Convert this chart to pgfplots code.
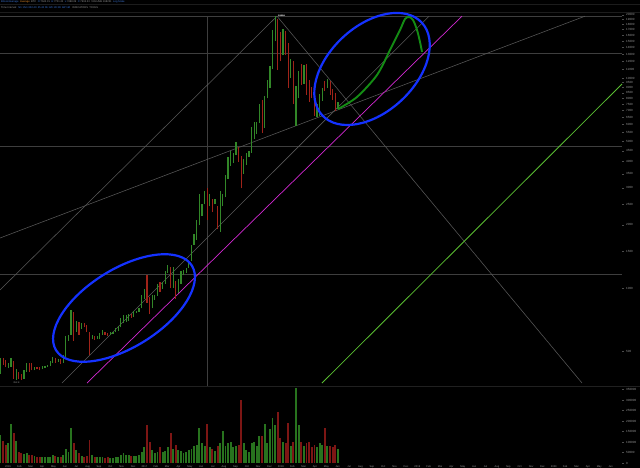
\documentclass[border=0pt]{standalone}
\usepackage{fontspec}
\setmainfont{Liberation Sans}
\usepackage{pgfplots}
\pgfplotsset{compat=1.18}
\definecolor{hline}{RGB}{62,62,62}
\definecolor{dline}{RGB}{88,88,88}
\definecolor{mag}{RGB}{210,40,210}
\definecolor{lime}{RGB}{90,190,50}
\definecolor{ellblue}{RGB}{20,50,255}
\definecolor{projgreen}{RGB}{20,140,20}
\definecolor{cgreen}{RGB}{50,135,40}
\definecolor{cred}{RGB}{160,35,25}
\definecolor{vgreen}{RGB}{40,115,30}
\definecolor{vred}{RGB}{125,22,20}
\definecolor{lblgray}{RGB}{150,150,150}
\definecolor{hdrblue}{RGB}{60,120,220}
\definecolor{hdrorange}{RGB}{230,140,40}
\newcommand\cu[3]{\addplot[cgreen, line width=1.15pt, forget plot] coordinates {(#1,#2)(#1,#3)};}
\newcommand\cd[3]{\addplot[cred, line width=1.15pt, forget plot] coordinates {(#1,#2)(#1,#3)};}
\begin{document}
\begin{tikzpicture}[x=1pt,y=1pt]
\fill[black] (0,0) rectangle (640,468);
% header
\draw[gray!22!black, line width=0.6pt] (0,464) -- (640,464);
\draw[gray!22!black, line width=0.6pt] (0,456) -- (640,456);
\node[anchor=west, inner sep=0pt, font=\fontsize{2.6}{3}\selectfont] at (1,466.3)
  {\textcolor{hdrblue}{BitcoinAverage}\ \ \textcolor{hdrorange}{Average}\ \ \textcolor{lblgray}{BTC}\ \ \textcolor{hdrblue}{O:}\textcolor{lblgray}{7642.15}\ \ \textcolor{hdrblue}{H:}\textcolor{lblgray}{7701.22}\ \ \textcolor{hdrblue}{L:}\textcolor{lblgray}{7488.09}\ \ \textcolor{hdrblue}{C:}\textcolor{lblgray}{7604.33}\ \ \textcolor{lblgray}{VOLUME 168221}\ \ \textcolor{hdrblue}{Log Scale}};
\node[anchor=west, inner sep=0pt, font=\fontsize{2.6}{3}\selectfont] at (1,460.2)
  {\textcolor{lblgray}{Time Interval:}\ \ \textcolor{hdrblue}{5m\ 15m\ 30m\ 1h\ 2h\ 4h\ 6h\ 12h\ 1D\ 3D\ 1W\ 1M}\ \ \ \textcolor{lblgray}{INDICATORS}\ \ \textcolor{lblgray}{TOOLS}};
\draw[gray!25!black, line width=0.8pt] (0,81.2) -- (640,81.2);

\begin{axis}[
  at={(0pt,82pt)}, anchor=south west, scale only axis,
  width=622pt, height=374pt,
  ymode=log,
  xmin=2015.9414, xmax=2020.498, ymin=341.5, ymax=20620,
  axis line style={draw=none},
  xtick=\empty,
  ytick={500,1000,1500,2000,2500,3000,3500,4000,4500,5000,5500,6000,6500,7000,7500,8000,8500,9000,9500,10000,11000,12000,13000,14000,15000,16000,17000,18000,19000,20000},
  yticklabels={500,1000,1500,2000,2500,3000,3500,4000,4500,5000,5500,6000,6500,7000,7500,8000,8500,9000,9500,10000,11000,12000,13000,14000,15000,16000,17000,18000,19000,20000},
  minor ytick={},
  yticklabel pos=right, ytick pos=right, tick align=outside,
  major tick length=1.5pt,
  ytick style={draw=gray!60!black, line width=0.4pt},
  yticklabel style={font=\fontsize{3}{3}\selectfont, text=lblgray, inner sep=0.5pt, anchor=west, xshift=2pt},
  clip=false,
]
\addplot[hline, line width=1pt] coordinates {(2015.9414,19700)(2020.498,19700)};
\addplot[hline, line width=1pt] coordinates {(2015.9414,13150)(2020.498,13150)};
\addplot[hline, line width=1pt] coordinates {(2015.9414,4700)(2020.498,4700)};
\addplot[hline, line width=1pt] coordinates {(2015.9414,1165)(2020.498,1165)};
\addplot[hline, line width=0.8pt] coordinates {(2017.4579,341.5)(2017.4579,19700)};
\addplot[dline, line width=0.55pt] coordinates {(2015.9414,978.3)(2017.9707,19700)};
\addplot[dline, line width=0.55pt] coordinates {(2017.9707,19700)(2020.2051,352.8)};
\addplot[dline, line width=0.55pt] coordinates {(2015.9414,1730)(2020.2271,19700)};
\addplot[dline, line width=0.55pt] coordinates {(2016.3956,352.8)(2019.0842,19700)};
\addplot[mag, line width=0.7pt] coordinates {(2016.5788,352.8)(2019.3260,19700)};
\addplot[lime, line width=0.8pt] coordinates {(2018.3004,352.8)(2020.498,9364)};
% weekly candles: time, low, high
\cu{2015.945}{390}{465} \cd{2015.964}{430}{465} \cd{2015.983}{420}{455} \cu{2016.002}{415}{440}
\cu{2016.022}{420}{465} \cd{2016.041}{370}{450} \cu{2016.060}{365}{410} \cd{2016.079}{370}{400}
\cd{2016.098}{365}{390} \cu{2016.117}{370}{405} \cu{2016.137}{400}{440} \cd{2016.156}{400}{440}
\cd{2016.175}{405}{440} \cu{2016.194}{405}{420} \cd{2016.213}{410}{420} \cd{2016.232}{405}{420}
\cu{2016.252}{410}{425} \cu{2016.271}{415}{425} \cu{2016.290}{420}{430} \cu{2016.309}{425}{450}
\cu{2016.328}{440}{470} \cd{2016.347}{440}{465} \cu{2016.367}{445}{460} \cd{2016.386}{435}{460}
\cu{2016.405}{440}{480} \cu{2016.424}{470}{590} \cu{2016.443}{560}{600} \cu{2016.462}{600}{790}
\cd{2016.482}{560}{770} \cu{2016.501}{620}{700} \cd{2016.520}{600}{690} \cu{2016.539}{640}{680}
\cd{2016.558}{650}{680} \cd{2016.577}{620}{665} \cd{2016.597}{480}{620} \cu{2016.616}{570}{600}
\cd{2016.635}{565}{590} \cu{2016.654}{570}{590} \cu{2016.673}{570}{610} \cu{2016.692}{600}{630}
\cd{2016.711}{600}{615} \cd{2016.731}{590}{610} \cu{2016.750}{600}{615} \cu{2016.769}{605}{620}
\cu{2016.788}{615}{645} \cu{2016.807}{625}{660} \cu{2016.826}{650}{720} \cu{2016.846}{680}{740}
\cu{2016.865}{690}{740} \cu{2016.884}{700}{750} \cd{2016.903}{720}{750} \cu{2016.922}{730}{780}
\cu{2016.941}{760}{780} \cu{2016.960}{770}{800} \cu{2016.980}{800}{930} \cu{2016.999}{890}{990}
\cd{2017.018}{850}{1150} \cd{2017.037}{750}{910} \cu{2017.056}{800}{930} \cu{2017.076}{880}{930}
\cu{2017.095}{920}{1040} \cd{2017.114}{960}{1070} \cu{2017.133}{990}{1070} \cu{2017.152}{1050}{1200}
\cu{2017.171}{1180}{1290} \cd{2017.191}{1000}{1260} \cu{2017.210}{1000}{1260} \cd{2017.229}{890}{1080}
\cu{2017.248}{950}{1100} \cu{2017.267}{1050}{1200} \cu{2017.286}{1150}{1220} \cu{2017.305}{1180}{1250}
\cu{2017.325}{1250}{1350} \cu{2017.344}{1350}{1600} \cu{2017.363}{1600}{1800} \cu{2017.382}{1700}{2100}
\cu{2017.401}{2000}{2800} \cu{2017.421}{2200}{2500} \cu{2017.440}{2500}{2900} \cd{2017.459}{2100}{3000}
\cu{2017.478}{2450}{2800} \cd{2017.497}{2300}{2650} \cu{2017.516}{2500}{2650} \cd{2017.536}{1900}{2450}
\cu{2017.555}{1850}{2900} \cu{2017.574}{2450}{2800} \cu{2017.593}{2700}{3450} \cu{2017.612}{3300}{4200}
\cu{2017.631}{3800}{4480} \cu{2017.651}{3950}{4400} \cu{2017.670}{4300}{4980} \cd{2017.689}{4000}{4700}
\cd{2017.708}{2980}{4250} \cu{2017.727}{3500}{4100} \cu{2017.746}{3850}{4400} \cu{2017.766}{4200}{4500}
\cu{2017.785}{4400}{5850} \cu{2017.804}{5100}{6150} \cu{2017.823}{5400}{6200} \cu{2017.842}{6100}{7500}
\cd{2017.862}{5500}{7900} \cu{2017.881}{5800}{8200} \cu{2017.900}{8000}{9800} \cu{2017.919}{9000}{11400}
\cu{2017.938}{11000}{17000} \cu{2017.957}{15000}{19700} \cd{2017.976}{10900}{19000} \cd{2017.995}{12000}{16500}
\cu{2018.015}{12800}{17200} \cd{2018.034}{12900}{16800} \cd{2018.053}{9000}{14600} \cu{2018.072}{10000}{12300}
\cd{2018.091}{7500}{12000} \cu{2018.110}{5900}{9200} \cu{2018.130}{8000}{10800} \cd{2018.149}{9300}{11700}
\cu{2018.168}{9400}{11500} \cd{2018.187}{8300}{11700} \cd{2018.206}{7700}{9800} \cd{2018.226}{8000}{9100}
\cd{2018.245}{6600}{8500} \cu{2018.264}{6500}{7500} \cu{2018.283}{6600}{8400} \cu{2018.302}{7800}{9000}
\cd{2018.321}{8700}{9700} \cu{2018.340}{9000}{9900} \cd{2018.360}{8300}{9700} \cd{2018.379}{7900}{8900}
\cd{2018.398}{7000}{8500} \cu{2018.417}{7100}{7700}
% projected path
\addplot[projgreen, line width=1.9pt, smooth] coordinates {
(2018.4176,7117)(2018.5568,8120)(2018.7033,10335)(2018.7985,13595)(2018.8718,16930)
(2018.9084,19100)(2018.9377,19520)(2018.9670,18890)(2018.9963,16930)(2019.0183,14840)(2019.0330,13300)};
% annotation ellipses
\draw[ellblue, line width=2.2pt, shift={(axis cs:2016.8498,803)}, rotate=32]
  (0pt,0pt) ellipse [x radius=80pt, y radius=39pt];
\draw[ellblue, line width=2.2pt, shift={(axis cs:2018.6667,11040)}, rotate=43]
  (0pt,0pt) ellipse [x radius=68pt, y radius=43pt];
\node[anchor=west, inner sep=0.4pt, fill=gray!45!black, text=white, font=\fontsize{2.4}{2.6}\selectfont] at (axis cs:2017.975,19700) {19666};
\node[anchor=west, inner sep=0.4pt, text=lblgray, font=\fontsize{2.4}{2.6}\selectfont] at (axis cs:2016.035,352.8) {352.8};
\end{axis}

\begin{axis}[
  at={(0pt,5pt)}, anchor=south west, scale only axis,
  width=622pt, height=76pt,
  xmin=2015.9414, xmax=2020.498, ymin=0, ymax=361900,
  axis line style={draw=none},
  xtick={2016,2016.08333,...,2020.45},
  xticklabels={2016,Feb,Mar,Apr,May,Jun,Jul,Aug,Sep,Oct,Nov,Dec,2017,Feb,Mar,Apr,May,Jun,Jul,Aug,Sep,Oct,Nov,Dec,2018,Feb,Mar,Apr,May,Jun,Jul,Aug,Sep,Oct,Nov,Dec,2019,Feb,Mar,Apr,May,Jun,Jul,Aug,Sep,Oct,Nov,Dec,2020,Feb,Mar,Apr,May,Jun},
  xticklabel style={font=\fontsize{2.6}{3}\selectfont, text=lblgray, inner sep=0.6pt},
  xtick style={draw=none},
  ytick={0,50000,100000,150000,200000,250000,300000,350000},
  yticklabels={0,50000,100000,150000,200000,250000,300000,350000},
  yticklabel pos=right, ytick pos=right, tick align=outside,
  major tick length=1.5pt,
  ytick style={draw=gray!60!black, line width=0.4pt},
  yticklabel style={font=\fontsize{3}{3}\selectfont, text=lblgray, inner sep=0.5pt, anchor=west, xshift=2pt},
  scaled y ticks=false,
  clip=false,
]
\addplot[ycomb, vgreen, line width=1.9pt] coordinates {
(2015.945,133000)(2016.002,95000)(2016.022,186000)(2016.060,105000)(2016.117,43000)(2016.137,47000)
(2016.194,34000)(2016.252,30000)(2016.271,27000)(2016.290,27000)(2016.309,30000)(2016.328,40000)
(2016.367,30000)(2016.405,36000)(2016.424,66000)(2016.443,53000)(2016.462,167000)(2016.501,60000)
(2016.539,34000)(2016.616,40000)(2016.654,27000)(2016.673,27000)(2016.692,27000)(2016.750,23000)
(2016.769,23000)(2016.788,27000)(2016.807,30000)(2016.826,40000)(2016.846,47000)(2016.865,40000)
(2016.884,36000)(2016.922,34000)(2016.941,34000)(2016.960,36000)(2016.980,53000)(2016.999,74000)
(2017.056,60000)(2017.076,47000)(2017.095,53000)(2017.133,50000)(2017.152,57000)(2017.171,74000)
(2017.210,66000)(2017.248,60000)(2017.267,57000)(2017.286,47000)(2017.305,50000)(2017.325,60000)
(2017.344,66000)(2017.363,80000)(2017.382,87000)(2017.401,167000)(2017.421,95000)(2017.440,83000)
(2017.478,74000)(2017.516,57000)(2017.555,95000)(2017.574,152000)(2017.593,80000)(2017.612,95000)
(2017.631,100000)(2017.651,74000)(2017.670,80000)(2017.727,95000)(2017.746,60000)(2017.766,53000)
(2017.785,95000)(2017.804,100000)(2017.823,80000)(2017.842,130000)(2017.881,186000)(2017.900,95000)
(2017.919,162000)(2017.938,214000)(2017.957,181000)(2018.015,100000)(2018.072,83000)(2018.110,357000)
(2018.130,181000)(2018.168,80000)(2018.264,74000)(2018.283,95000)(2018.302,87000)(2018.340,80000)
(2018.417,66000)};
\addplot[ycomb, vred, line width=1.9pt] coordinates {
(2015.964,105000)(2015.983,86000)(2016.041,143000)(2016.079,50000)(2016.098,47000)(2016.156,40000)
(2016.175,40000)(2016.213,30000)(2016.232,30000)(2016.347,34000)(2016.386,30000)(2016.482,95000)
(2016.520,47000)(2016.558,30000)(2016.577,34000)(2016.597,110000)(2016.635,30000)(2016.711,23000)
(2016.731,27000)(2016.903,34000)(2017.018,181000)(2017.037,100000)(2017.114,74000)(2017.191,143000)
(2017.229,87000)(2017.459,186000)(2017.497,66000)(2017.536,80000)(2017.689,87000)(2017.708,300000)
(2017.862,130000)(2017.976,243000)(2017.995,120000)(2018.034,95000)(2018.053,190000)(2018.091,100000)
(2018.149,100000)(2018.187,95000)(2018.206,100000)(2018.226,74000)(2018.245,87000)(2018.321,167000)
(2018.360,80000)(2018.379,74000)(2018.398,87000)};
\end{axis}
\pgfresetboundingbox
\path[use as bounding box] (0,0) rectangle (640,468);
\end{tikzpicture}
\end{document}
